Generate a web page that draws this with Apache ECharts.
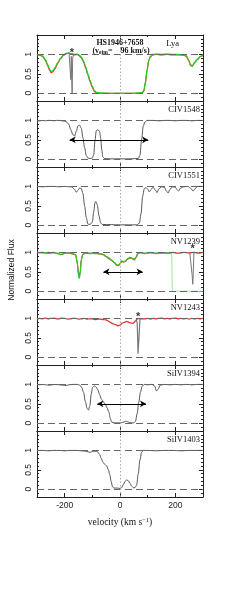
<!DOCTYPE html>
<html><head><meta charset="utf-8">
<script src="https://cdn.jsdelivr.net/npm/echarts@6/dist/echarts.min.js"></script>
<style>html,body{margin:0;padding:0;background:#fff}#c{width:240px;height:598px}</style>
</head><body><div id="c"></div>
<script>
// ---------- data ----------
const velRange = [-300, 300];
const fluxRange = [-0.2, 1.5];
const velocityTicks = [-200, 0, 200];
const fluxTicks = [0, 0.5, 1];
const refLevels = [0, 1];
const panelLabels = ['Lya', 'CIV1548', 'CIV1551', 'NV1239', 'NV1243', 'SiIV1394', 'SiIV1403'];
const objectName = 'HS1946+7658';
const vejText = '96 km/s)';

const lyaGreen = [[-300,1.0],[-290,0.99],[-280,0.96],[-270,0.88],[-262,0.75],[-255,0.63],[-249,0.56],[-243,0.58],[-235,0.66],[-225,0.79],[-215,0.9],[-205,0.98],[-195,1.03],[-185,1.04],[-175,1.02],[-165,1.0],[-155,1.01],[-148,0.99],[-140,0.94],[-132,0.84],[-124,0.68],[-116,0.5],[-108,0.33],[-100,0.18],[-93,0.07],[-85,0.02],[-70,0.01],[-40,0.0],[0,0.0],[40,0.0],[70,0.01],[80,0.02],[86,0.07],[92,0.3],[98,0.62],[104,0.85],[110,0.95],[118,1.0],[130,1.01],[150,1.0],[170,1.01],[190,1.0],[210,1.0],[230,0.99],[240,0.96],[248,0.86],[255,0.73],[262,0.72],[270,0.8],[280,0.88],[290,0.95],[300,0.99]];
const lyaRed = [[-300,0.99],[-290,0.98],[-280,0.95],[-270,0.86],[-262,0.72],[-255,0.6],[-249,0.53],[-243,0.55],[-235,0.63],[-225,0.77],[-215,0.89],[-205,0.97],[-195,1.02],[-185,1.03],[-175,1.01],[-165,0.99],[-155,1.0],[-148,0.97],[-140,0.92],[-132,0.81],[-124,0.65],[-116,0.47],[-108,0.3],[-100,0.15],[-93,0.05],[-85,0.01],[-70,0.0],[-40,0.0],[0,0.0],[40,0.0],[70,0.0],[80,0.01],[86,0.05],[92,0.27],[98,0.6],[104,0.84],[110,0.94],[118,0.99],[130,1.0],[150,0.99],[170,1.0],[190,0.99],[210,0.99],[230,0.98],[240,0.95],[248,0.85],[255,0.71],[262,0.7],[270,0.79],[280,0.87],[290,0.94],[300,0.98]];
const lyaSpike = [[-184,1.03],[-180,1.0],[-178,0.35],[-176,0.95],[-175,0.5],[-173,0.0],[-171,0.9],[-168,1.01]];

const civ1548 = [[-300,0.98],[-290,0.99],[-280,1.0],[-270,0.99],[-260,1.0],[-250,1.0],[-240,0.99],[-230,1.0],[-220,1.0],[-210,0.99],[-200,0.98],[-193,0.96],[-185,0.9],[-178,0.76],[-170,0.63],[-164,0.6],[-158,0.72],[-152,0.86],[-146,0.88],[-140,0.8],[-134,0.55],[-128,0.3],[-122,0.1],[-116,0.03],[-108,0.02],[-100,0.03],[-95,0.12],[-90,0.5],[-86,0.73],[-80,0.76],[-74,0.72],[-70,0.55],[-66,0.25],[-62,0.06],[-56,0.02],[-40,0.01],[0,0.01],[40,0.01],[66,0.02],[72,0.1],[78,0.5],[84,0.85],[90,0.96],[98,1.0],[120,1.0],[140,0.99],[160,1.0],[180,1.0],[200,0.99],[220,1.0],[240,1.0],[260,0.99],[280,1.0],[300,1.0]];
const civ1551 = [[-300,1.0],[-280,0.99],[-260,1.0],[-240,1.0],[-220,0.99],[-200,1.0],[-185,0.99],[-175,0.99],[-165,0.93],[-158,0.85],[-152,0.9],[-146,0.96],[-140,0.95],[-134,0.82],[-128,0.5],[-122,0.2],[-116,0.03],[-108,0.02],[-100,0.08],[-95,0.35],[-90,0.6],[-86,0.6],[-82,0.52],[-76,0.25],[-70,0.06],[-64,0.02],[0,0.01],[60,0.01],[70,0.05],[76,0.3],[82,0.75],[88,0.95],[94,0.97],[100,0.93],[106,0.86],[112,0.92],[120,0.98],[128,0.9],[134,0.84],[140,0.93],[150,0.99],[160,0.98],[168,0.88],[174,0.83],[180,0.92],[190,0.99],[200,0.98],[207,0.91],[212,0.88],[218,0.95],[230,0.99],[245,1.0],[256,0.95],[264,0.88],[270,0.93],[280,1.0],[300,1.0]];

const nv1239Green = [[-300,1.0],[-280,0.99],[-260,1.0],[-240,0.99],[-225,0.98],[-215,0.94],[-208,0.96],[-200,0.99],[-185,0.98],[-170,0.97],[-160,0.93],[-154,0.7],[-150,0.4],[-147,0.33],[-144,0.45],[-140,0.8],[-135,0.95],[-125,0.98],[-110,0.98],[-90,0.97],[-70,0.97],[-60,0.95],[-50,0.9],[-40,0.86],[-30,0.8],[-20,0.74],[-12,0.68],[-6,0.67],[0,0.72],[6,0.78],[12,0.76],[20,0.78],[28,0.84],[36,0.87],[44,0.85],[52,0.82],[58,0.88],[64,0.97],[72,0.99],[90,0.98],[110,0.99],[130,0.98],[150,0.98],[170,0.99],[187,0.99]];
const nv1239Cut = [[187,0.99],[189,0.0],[300,0.0]];
const nv1239Red = [[-300,0.99],[-280,1.0],[-260,0.98],[-240,1.0],[-225,0.97],[-215,0.95],[-208,0.95],[-200,0.98],[-185,0.99],[-170,0.96],[-160,0.94],[-154,0.72],[-150,0.45],[-147,0.38],[-144,0.5],[-140,0.82],[-135,0.94],[-125,0.99],[-110,0.97],[-90,0.98],[-70,0.96],[-60,0.94],[-50,0.89],[-40,0.84],[-30,0.79],[-20,0.73],[-12,0.67],[-6,0.66],[0,0.7],[6,0.77],[12,0.75],[20,0.77],[28,0.83],[36,0.86],[44,0.84],[52,0.81],[58,0.87],[64,0.96],[72,1.0],[90,0.97],[110,1.0],[130,0.97],[150,0.99],[170,0.98],[190,1.0],[210,0.98],[230,1.0],[250,0.99],[270,1.0],[285,0.98],[300,1.0]];
const nv1239Spike = [[252,1.0],[258,0.99],[261,0.4],[263,0.18],[265,0.5],[267,0.98],[272,1.0]];

const nv1243Red = [[-300,0.98],[-290,1.0],[-280,0.99],[-270,1.01],[-260,0.99],[-250,1.0],[-240,1.01],[-230,0.99],[-220,0.99],[-210,1.01],[-200,1.0],[-190,0.98],[-180,0.99],[-170,1.0],[-160,1.0],[-150,0.98],[-140,0.99],[-130,1.0],[-120,0.98],[-110,0.99],[-100,0.99],[-90,0.97],[-80,0.98],[-70,0.98],[-60,0.97],[-50,0.96],[-42,0.93],[-35,0.9],[-25,0.86],[-15,0.84],[-8,0.81],[0,0.83],[8,0.88],[16,0.9],[24,0.92],[32,0.9],[40,0.88],[48,0.88],[55,0.93],[62,0.98],[70,1.0],[80,0.99],[90,0.99],[100,1.0],[110,0.98],[120,1.0],[130,0.99],[140,1.0],[150,1.01],[160,0.99],[170,1.0],[180,0.99],[190,1.0],[200,1.01],[210,0.99],[220,1.0],[230,0.99],[240,1.0],[250,0.98],[260,1.0],[270,0.99],[280,1.0],[290,0.99],[300,1.0]];
const nv1243Spike = [[58,0.97],[62,0.9],[64,0.45],[65,0.09],[67,0.12],[69,0.55],[72,0.98],[76,1.0]];

const siiv1394 = [[-300,1.0],[-290,0.99],[-280,1.0],[-270,0.99],[-255,0.98],[-245,0.99],[-235,1.0],[-220,0.99],[-205,0.98],[-195,0.97],[-185,0.99],[-170,1.0],[-155,1.0],[-145,0.98],[-138,0.92],[-132,0.8],[-125,0.56],[-119,0.38],[-114,0.34],[-109,0.45],[-104,0.75],[-99,0.93],[-93,0.96],[-86,0.93],[-80,0.86],[-74,0.74],[-67,0.62],[-60,0.55],[-54,0.5],[-47,0.4],[-40,0.28],[-35,0.12],[-30,0.03],[-20,0.01],[0,0.01],[10,0.02],[20,0.05],[28,0.04],[36,0.01],[50,0.01],[56,0.05],[62,0.25],[68,0.55],[74,0.8],[80,0.95],[88,1.0],[100,0.99],[115,1.0],[125,0.96],[132,0.83],[138,0.88],[145,0.98],[160,1.0],[180,0.99],[200,1.0],[220,0.99],[240,1.0],[260,0.99],[280,1.0],[300,1.0]];
const siiv1403 = [[-300,1.0],[-280,1.0],[-260,0.99],[-240,1.0],[-220,1.0],[-200,0.99],[-180,1.0],[-160,1.0],[-140,0.99],[-125,0.98],[-115,0.96],[-108,0.95],[-100,0.97],[-90,0.98],[-80,0.96],[-74,0.9],[-68,0.8],[-62,0.7],[-55,0.64],[-48,0.6],[-42,0.5],[-37,0.38],[-32,0.2],[-27,0.06],[-22,0.03],[-10,0.03],[0,0.02],[6,0.04],[12,0.12],[18,0.2],[24,0.24],[30,0.22],[36,0.15],[42,0.08],[48,0.04],[54,0.04],[60,0.1],[66,0.4],[72,0.75],[78,0.95],[84,1.0],[100,1.0],[130,0.99],[160,1.0],[190,1.0],[220,0.99],[250,1.0],[280,1.0],[300,1.0]];

const arrowCIV1548 = [[-182, 0.5], [102, 0.5]];
const arrowNV1239 = [[-60, 0.5], [82, 0.5]];
const arrowSiIV1394 = [[-82, 0.5], [94, 0.5]];
const starLya = [[-174, 1.03]];
const starNV1239 = [[263, 1.1]];
const starNV1243 = [[66, 1.03]];

// ---------- layout / style ----------
const L = 37, W = 166, T0 = 35, H = 66;
const AX = '#222', DATA = '#555', GREEN = '#22d022', RED = '#e62a2a';
const SANS = 'Liberation Sans', SERIF = 'Liberation Serif';

const grids = [], xAxes = [], yAxes = [], series = [], graphics = [];
for (let i = 0; i < 7; i++) {
  grids.push({left: L, width: W, top: T0 + H * i, height: H});
  const last = i === 6;
  const xb = {gridIndex: i, type: 'value', min: velRange[0], max: velRange[1], splitLine: {show: false}};
  xAxes.push(Object.assign({}, xb, {position: 'bottom', interval: 100,
    axisLine: {show: true, onZero: false, lineStyle: {color: AX, width: 1}},
    axisTick: {show: true, inside: true, length: 2, lineStyle: {color: AX}},
    axisLabel: {show: last, customValues: velocityTicks, fontFamily: SANS, fontSize: 8.5, color: '#222', margin: 4}}));
  xAxes.push(Object.assign({}, xb, {position: 'bottom', interval: 100,
    axisLine: {show: false, onZero: false},
    axisTick: {show: true, inside: true, length: 4, customValues: velocityTicks, lineStyle: {color: AX}},
    axisLabel: {show: false}}));
  xAxes.push(Object.assign({}, xb, {position: 'top', interval: 100,
    axisLine: {show: true, onZero: false, lineStyle: {color: AX, width: 1}},
    axisTick: {show: true, inside: true, length: 2, lineStyle: {color: AX}},
    axisLabel: {show: false}}));
  xAxes.push(Object.assign({}, xb, {position: 'top', interval: 100,
    axisLine: {show: false, onZero: false},
    axisTick: {show: true, inside: true, length: 4, customValues: velocityTicks, lineStyle: {color: AX}},
    axisLabel: {show: false}}));
  const yb = {gridIndex: i, type: 'value', min: fluxRange[0], max: fluxRange[1], interval: 0.1, splitLine: {show: false}};
  yAxes.push(Object.assign({}, yb, {position: 'left',
    axisLine: {show: true, onZero: false, lineStyle: {color: AX, width: 1}},
    axisTick: {show: true, inside: true, length: 2, lineStyle: {color: AX}},
    axisLabel: {show: true, customValues: fluxTicks, rotate: 90, fontFamily: SANS, fontSize: 8.5, color: '#222', margin: 4}}));
  yAxes.push(Object.assign({}, yb, {position: 'left',
    axisLine: {show: false, onZero: false},
    axisTick: {show: true, inside: true, length: 4, customValues: fluxTicks, lineStyle: {color: AX}},
    axisLabel: {show: false}}));
  yAxes.push(Object.assign({}, yb, {position: 'right',
    axisLine: {show: true, onZero: false, lineStyle: {color: AX, width: 1}},
    axisTick: {show: true, inside: true, length: 2, lineStyle: {color: AX}},
    axisLabel: {show: false}}));
  yAxes.push(Object.assign({}, yb, {position: 'right',
    axisLine: {show: false, onZero: false},
    axisTick: {show: true, inside: true, length: 4, customValues: fluxTicks, lineStyle: {color: AX}},
    axisLabel: {show: false}}));

  // reference lines (dashed levels + dotted zero velocity)
  series.push({type: 'line', xAxisIndex: 4 * i, yAxisIndex: 4 * i, data: [], silent: true, z: 1,
    markLine: {silent: true, symbol: 'none', animation: false, label: {show: false},
      data: refLevels.map(v => ({yAxis: v, lineStyle: {color: '#666', type: [7, 4], width: 1}}))
        .concat([{xAxis: 0, lineStyle: {color: '#aaa', type: [1.5, 2], width: 1}}])}});
  graphics.push({type: 'text', x: i === 0 ? 179 : 200, y: T0 + H * i + 9, z: 100,
    style: {text: panelLabels[i], font: '8.5px "' + SERIF + '"', fill: '#111', align: 'right', verticalAlign: 'middle'}});
}

function line(i, data, color, width, z, smooth) {
  series.push({type: 'line', xAxisIndex: 4 * i, yAxisIndex: 4 * i, data: data, symbol: 'none',
    smooth: smooth === undefined ? 0.3 : smooth, smoothMonotone: 'x', z: z,
    lineStyle: {color: color, width: width}, silent: true});
}
function arrow(i, pts) {
  series.push({type: 'line', xAxisIndex: 4 * i, yAxisIndex: 4 * i, data: [], silent: true, z: 5,
    markLine: {silent: true, symbol: ['arrow', 'arrow'], symbolSize: [5, 6], label: {show: false}, animation: false,
      lineStyle: {color: '#000', type: 'solid', width: 1},
      data: [[{coord: pts[0]}, {coord: pts[1]}]]}});
}
function star(i, pts) {
  series.push({type: 'scatter', xAxisIndex: 4 * i, yAxisIndex: 4 * i, data: pts, symbolSize: 1,
    itemStyle: {color: 'rgba(0,0,0,0)'}, silent: true, z: 6,
    label: {show: true, position: 'inside', formatter: '*', fontFamily: SANS, fontSize: 11, fontWeight: 'bold', color: '#000'}});
}

line(0, lyaSpike, '#777', 1, 2, false);
line(0, lyaRed, RED, 1.2, 3);
line(0, lyaGreen, GREEN, 1.2, 4);
star(0, starLya);
line(1, civ1548, DATA, 1, 3);
arrow(1, arrowCIV1548);
line(2, civ1551, DATA, 1, 3);
line(3, nv1239Spike, '#777', 1, 2, false);
line(3, nv1239Cut, '#9be89b', 1, 2, false);
line(3, nv1239Red, RED, 1.2, 3);
line(3, nv1239Green, GREEN, 1.2, 4);
arrow(3, arrowNV1239);
star(3, starNV1239);
line(4, nv1243Spike, '#777', 1.2, 2, false);
line(4, nv1243Red, RED, 1.2, 3);
star(4, starNV1243);
line(5, siiv1394, DATA, 1, 3);
arrow(5, arrowSiIV1394);
line(6, siiv1403, DATA, 1, 3);

// title block
graphics.push({type: 'text', x: 120, y: 43, z: 100,
  style: {text: objectName, font: 'bold 8px "' + SERIF + '"', fill: '#111', align: 'center', verticalAlign: 'middle'}});
graphics.push({type: 'text', x: 121, y: 51, z: 100,
  style: {text: '{a|(v}{s|ejm}{a|=    ' + vejText + '}', align: 'center', verticalAlign: 'middle',
    rich: {a: {font: 'bold 8px "' + SERIF + '"', fill: '#111'}, s: {font: 'bold 5.5px "' + SERIF + '"', fill: '#111', verticalAlign: 'bottom', padding: [3, 0, 0, 0]}}}});
// axis titles
graphics.push({type: 'text', x: 12, y: 270, rotation: Math.PI / 2, z: 100,
  style: {text: 'Normalized Flux', font: '8.5px "' + SANS + '"', fill: '#111', align: 'center', verticalAlign: 'middle'}});
graphics.push({type: 'text', x: 120, y: 522, z: 100,
  style: {text: '{a|velocity (km s}{s|−1}{a|)}', align: 'center', verticalAlign: 'middle',
    rich: {a: {font: '9.5px "' + SERIF + '"', fill: '#111'}, s: {font: '6.5px "' + SERIF + '"', fill: '#111', verticalAlign: 'top', padding: [0, 0, 4, 0]}}}});

const chart = echarts.init(document.getElementById('c'), null, {renderer: 'canvas'});
chart.setOption({animation: false, backgroundColor: '#fff', grid: grids, xAxis: xAxes, yAxis: yAxes, series: series, graphic: graphics});
</script></body></html>
